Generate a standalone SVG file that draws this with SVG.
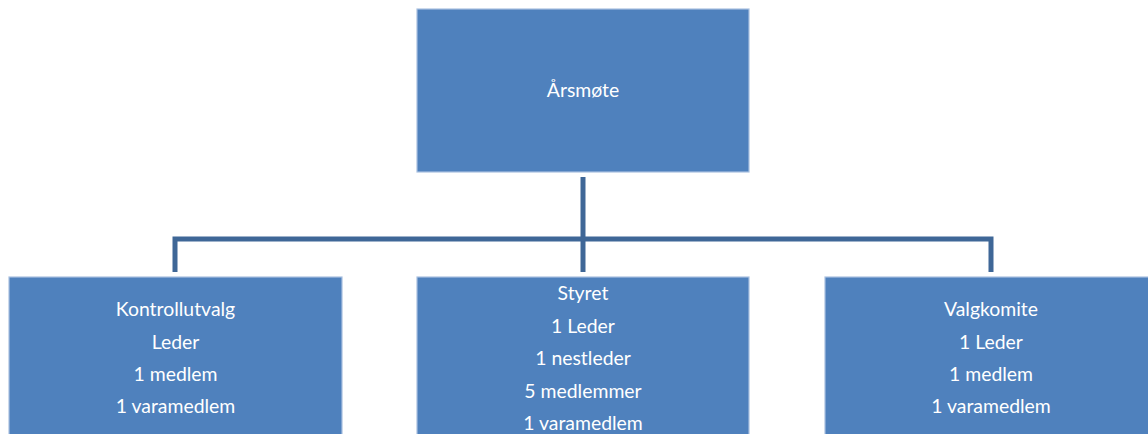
<svg xmlns="http://www.w3.org/2000/svg" width="1148" height="434" viewBox="0 0 1148 434">
<style>
.box{fill:#4F81BD;stroke:#A9C0DF;stroke-width:1.2}
.t{font-family:Lato,"Liberation Sans",sans-serif;font-size:19.4px;fill:#FFFFFF;text-anchor:middle}
.c{fill:none;stroke:#3F6797;stroke-width:5}
</style>
<rect width="1148" height="434" fill="#FFFFFF"/>
<g id="connectors">
<path class="c" d="M583,177 V272"/>
<path class="c" d="M175,272 V239 H991 V272"/>
</g>
<g id="aarsmote">
<rect class="box" x="417" y="9" width="332" height="163"/>
<text class="t" x="583" y="97">Årsmøte</text>
</g>
<g id="kontrollutvalg">
<rect class="box" x="9" y="277" width="333" height="170"/>
<text class="t" x="175.5" y="316">Kontrollutvalg</text>
<text class="t" x="175.5" y="349">Leder</text>
<text class="t" x="175.5" y="381">1 medlem</text>
<text class="t" x="175.5" y="413">1 varamedlem</text>
</g>
<g id="styret">
<rect class="box" x="417" y="277" width="332" height="170"/>
<text class="t" x="583" y="300">Styret</text>
<text class="t" x="583" y="333">1 Leder</text>
<text class="t" x="583" y="365">1 nestleder</text>
<text class="t" x="583" y="398">5 medlemmer</text>
<text class="t" x="583" y="430">1 varamedlem</text>
</g>
<g id="valgkomite">
<rect class="box" x="825" y="277" width="333" height="170"/>
<text class="t" x="991" y="316">Valgkomite</text>
<text class="t" x="991" y="349">1 Leder</text>
<text class="t" x="991" y="381">1 medlem</text>
<text class="t" x="991" y="413">1 varamedlem</text>
</g>
</svg>
